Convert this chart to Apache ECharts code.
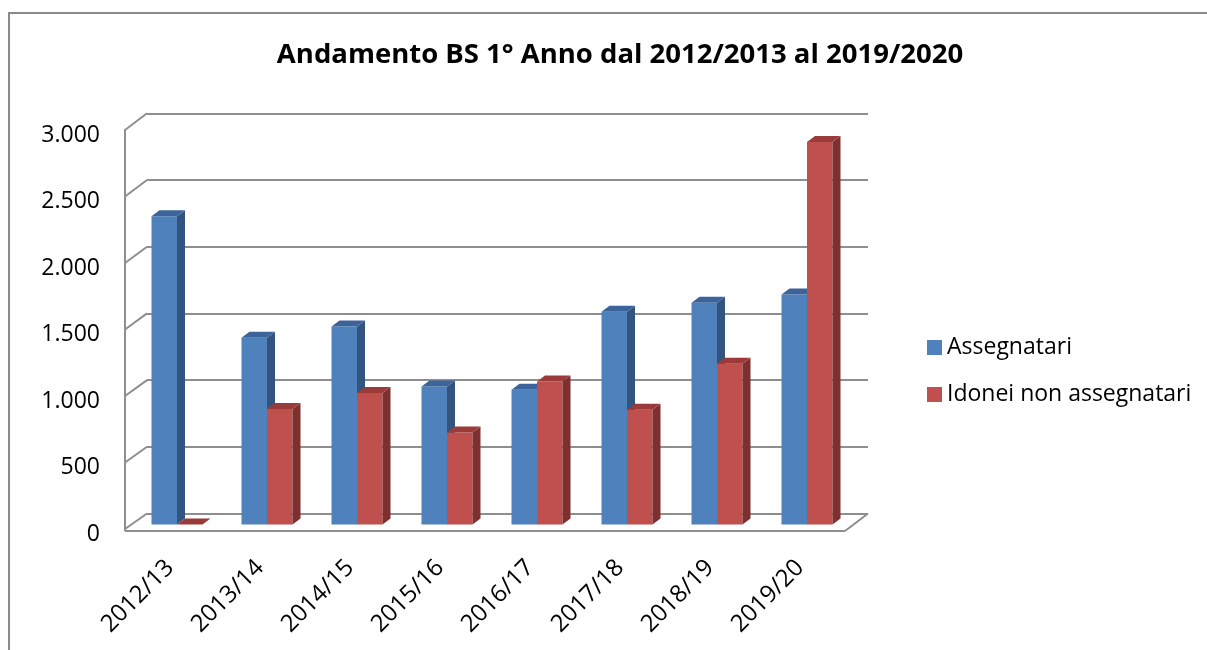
<!DOCTYPE html>
<html>
<head>
<meta charset="utf-8">
<script src="https://cdn.jsdelivr.net/npm/echarts@6/dist/echarts.min.js"></script>
<style>
  html, body { margin: 0; padding: 0; background: #fff; }
  #chart { width: 1207px; height: 650px; }
</style>
</head>
<body>
<div id="chart"></div>
<script>
const categories = ['2012/13', '2013/14', '2014/15', '2015/16', '2016/17', '2017/18', '2018/19', '2019/20'];
const assegnatari = [2318, 1405, 1488, 1038, 1013, 1600, 1668, 1730];
const idonei = [0, 868, 988, 692, 1075, 863, 1208, 2876];
const yTicks = [0, 500, 1000, 1500, 2000, 2500, 3000];

const FONT = '"Open Sans", sans-serif';
const GRID_LINE = '#8e8e8e';

const palettes = [
  { front: '#4f81bd', side: '#33547e', top: '#3c649a' },
  { front: '#c0504d', side: '#7d302f', top: '#9b3b39' }
];

function fmt(v) {
  return String(v).replace(/\B(?=(\d{3})+(?!\d))/g, '.');
}

// fake 3D column: front face, right side and top, shifted a bit into depth
function renderBar(side) {
  return function (params, api) {
    const i = api.value(0);
    const v = api.value(1);
    const top = api.coord([i, v]);
    const base = api.coord([i, 0]);
    const w = 25.5, dx = 8, dy = 6, sx = 7, sy = -4.5;
    const x0 = top[0] + sx + (side === 0 ? -w : 0);
    const x1 = x0 + w;
    const y0 = top[1] + sy;
    const y1 = base[1] + sy;
    const c = palettes[side];
    return {
      type: 'group',
      children: [
        { type: 'rect', shape: { x: x0, y: y0, width: w, height: y1 - y0 }, style: { fill: c.front } },
        { type: 'polygon', shape: { points: [[x1, y0], [x1 + dx, y0 - dy], [x1 + dx, y1 - dy], [x1, y1]] }, style: { fill: c.side } },
        { type: 'polygon', shape: { points: [[x0, y0], [x0 + dx, y0 - dy], [x1 + dx, y0 - dy], [x1, y0]] }, style: { fill: c.top } }
      ]
    };
  };
}

const chart = echarts.init(document.getElementById('chart'));

const option = {
  animation: false,
  title: {
    text: 'Andamento BS 1° Anno dal 2012/2013 al 2019/2020',
    left: 615,
    textAlign: 'center',
    top: 36,
    textStyle: { fontFamily: FONT, fontWeight: 'bold', fontSize: 27.5, color: '#000' }
  },
  legend: {
    orient: 'vertical',
    left: 922,
    top: 331,
    itemWidth: 15,
    itemHeight: 15,
    itemGap: 24,
    icon: 'rect',
    textStyle: { fontFamily: FONT, fontSize: 23, color: '#000' },
    data: ['Assegnatari', 'Idonei non assegnatari']
  },
  grid: [
    // back wall
    { left: 147, right: 339, top: 113.3, bottom: 136.5 },
    // front plane
    { left: 125, right: 362, top: 130, bottom: 121 }
  ],
  xAxis: [
    { gridIndex: 0, type: 'category', data: categories, show: false },
    {
      gridIndex: 1,
      type: 'category',
      data: categories,
      axisLine: { show: false },
      axisTick: { show: false },
      axisLabel: { rotate: 45, margin: 35, fontFamily: FONT, fontSize: 24, color: '#000' }
    }
  ],
  yAxis: [
    {
      gridIndex: 0, type: 'value', min: 0, max: 3000, interval: 500,
      axisLine: { show: false }, axisTick: { show: false }, axisLabel: { show: false },
      splitLine: { lineStyle: { color: GRID_LINE, width: 2 } }
    },
    {
      gridIndex: 1, type: 'value', min: 0, max: 3000, interval: 500,
      axisLine: { show: true, lineStyle: { color: GRID_LINE, width: 2 } },
      axisTick: { show: false },
      splitLine: { show: false },
      axisLabel: {
        margin: 25, verticalAlign: 'top', lineHeight: 10,
        fontFamily: FONT, fontSize: 23, color: '#000', formatter: fmt
      }
    }
  ],
  series: [
    {
      name: 'Assegnatari',
      type: 'custom',
      xAxisIndex: 1,
      yAxisIndex: 1,
      itemStyle: { color: palettes[0].front },
      renderItem: renderBar(0),
      encode: { x: 0, y: 1 },
      data: assegnatari.map((v, i) => [i, v])
    },
    {
      name: 'Idonei non assegnatari',
      type: 'custom',
      xAxisIndex: 1,
      yAxisIndex: 1,
      itemStyle: { color: palettes[1].front },
      renderItem: renderBar(1),
      encode: { x: 0, y: 1 },
      data: idonei.map((v, i) => [i, v])
    }
  ]
};

chart.setOption(option);

// frame: outer border, left connectors and the floor edges
const lines = [];
yTicks.forEach(t => {
  const f = chart.convertToPixel({ xAxisIndex: 1, yAxisIndex: 1 }, [0, t]);
  const b = chart.convertToPixel({ xAxisIndex: 0, yAxisIndex: 0 }, [0, t]);
  lines.push([[125, f[1]], [147, b[1]]]);
});
const fz = chart.convertToPixel({ yAxisIndex: 1 }, 0);
const bz = chart.convertToPixel({ yAxisIndex: 0 }, 0);
lines.push([[125, fz + 2], [845, fz + 2]]);
lines.push([[868, bz], [845, fz + 2]]);
lines.push([[125, fz], [125, fz + 2]]);

chart.setOption({
  graphic: [
    {
      type: 'rect', z: -10,
      shape: { x: 9, y: 13, width: 1300, height: 700 },
      style: { fill: 'none', stroke: '#8a8a8a', lineWidth: 2 }
    }
  ].concat(lines.map(p => ({
    type: 'polyline', z: -5,
    shape: { points: p },
    style: { stroke: GRID_LINE, lineWidth: 2, fill: 'none' }
  })))
});
</script>
</body>
</html>
